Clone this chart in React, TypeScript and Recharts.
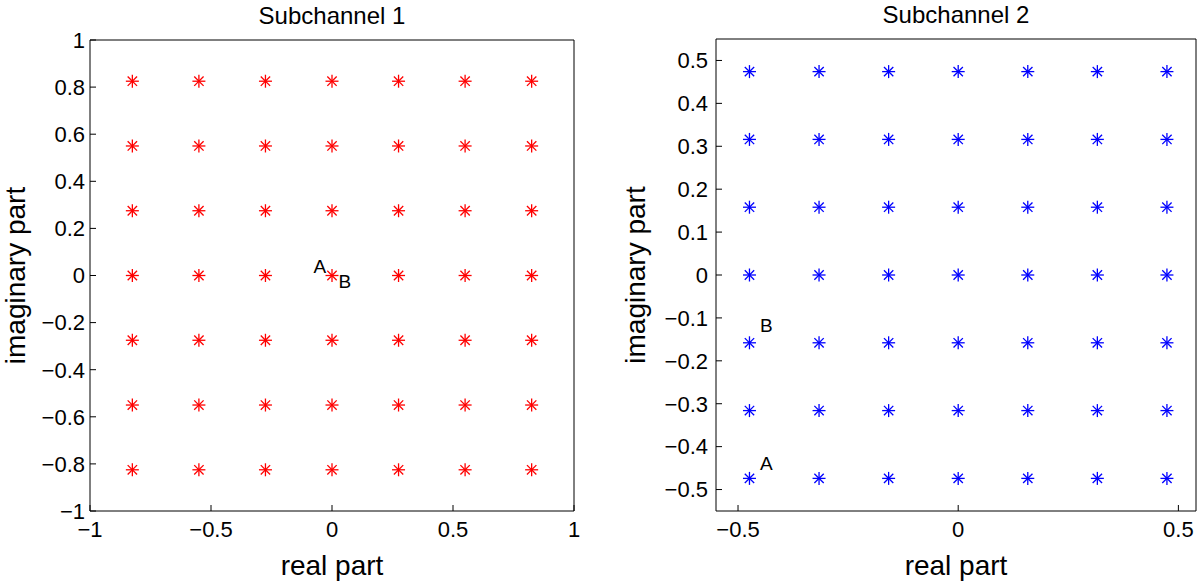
import { ScatterChart, Scatter, XAxis, YAxis } from 'recharts';

// constellation levels
const levels1 = [-0.825, -0.55, -0.275, 0, 0.275, 0.55, 0.825];
const levels2 = [-0.474, -0.316, -0.158, 0, 0.158, 0.316, 0.474];

const ticks1X = [-1, -0.5, 0, 0.5, 1];
const ticks1Y = [-1, -0.8, -0.6, -0.4, -0.2, 0, 0.2, 0.4, 0.6, 0.8, 1];
const ticks2X = [-0.5, 0, 0.5];
const ticks2Y = [-0.5, -0.4, -0.3, -0.2, -0.1, 0, 0.1, 0.2, 0.3, 0.4, 0.5];

const notes1 = [
  { x: -0.076, y: 0.04, text: 'A' },
  { x: 0.027, y: -0.025, text: 'B' },
];
const notes2 = [
  { x: -0.45, y: -0.439, text: 'A' },
  { x: -0.45, y: -0.118, text: 'B' },
];

const grid = (levels: number[]) =>
  levels.flatMap((re) => levels.map((im) => ({ x: re, y: im })));

const FONT = '"Liberation Sans", Arial, Helvetica, sans-serif';

const fmt = (v: number) => (v < 0 ? '\u2212' + String(Math.abs(v)) : String(v));

const star = (color: string) => (props: any) => {
  const { cx, cy } = props;
  const r = 6.5;
  const d = r * 0.72;
  return (
    <g stroke={color} strokeWidth={1.3}>
      <line x1={cx - r} y1={cy} x2={cx + r} y2={cy} />
      <line x1={cx} y1={cy - r} x2={cx} y2={cy + r} />
      <line x1={cx - d} y1={cy - d} x2={cx + d} y2={cy + d} />
      <line x1={cx - d} y1={cy + d} x2={cx + d} y2={cy - d} />
    </g>
  );
};

const note = (props: any) => (
  <text
    x={props.cx}
    y={props.cy}
    dominantBaseline="central"
    fontSize={19}
    fontFamily={FONT}
    fill="#000"
  >
    {props.payload.text}
  </text>
);

const tickStyle = { fill: '#000', fontSize: 22, fontFamily: FONT };

interface PanelProps {
  title: string;
  color: string;
  levels: number[];
  notes: { x: number; y: number; text: string }[];
  xDomain: [number, number];
  yDomain: [number, number];
  xTicks: number[];
  yTicks: number[];
  yWidth: number;
  right: number;
  top: number;
  yLabelOffset: number;
  yTickMargin: number;
}

function Panel(p: PanelProps) {
  return (
    <ScatterChart
      width={600}
      height={581}
      margin={{ top: p.top - 1, right: p.right - 1, bottom: 0, left: 0 }}
      style={{ fontFamily: FONT }}
    >
      <XAxis
        dataKey="x"
        type="number"
        domain={p.xDomain}
        ticks={p.xTicks}
        allowDataOverflow
        height={70}
        stroke="#000"
        tick={tickStyle}
        tickSize={-6}
        tickMargin={16}
        tickFormatter={fmt}
        label={{
          value: 'real part',
          position: 'insideBottom',
          offset: 6,
          fill: '#000',
          fontSize: 28,
          fontFamily: FONT,
        }}
      />
      <XAxis
        xAxisId="top"
        dataKey="x"
        orientation="top"
        type="number"
        domain={p.xDomain}
        ticks={p.xTicks}
        allowDataOverflow
        height={1}
        stroke="#000"
        tick={false}
        tickSize={-6}
        label={{
          value: p.title,
          position: 'top',
          offset: 15,
          fill: '#000',
          fontSize: 24,
          fontFamily: FONT,
        }}
      />
      <YAxis
        dataKey="y"
        type="number"
        domain={p.yDomain}
        ticks={p.yTicks}
        allowDataOverflow
        width={p.yWidth}
        stroke="#000"
        tick={tickStyle}
        tickSize={-6}
        tickMargin={p.yTickMargin}
        tickFormatter={fmt}
        label={{
          value: 'imaginary part',
          angle: -90,
          position: 'insideLeft',
          offset: p.yLabelOffset,
          fill: '#000',
          fontSize: 28,
          fontFamily: FONT,
          style: { textAnchor: 'middle' },
        }}
      />
      <YAxis
        yAxisId="right"
        dataKey="y"
        orientation="right"
        type="number"
        domain={p.yDomain}
        ticks={p.yTicks}
        allowDataOverflow
        width={1}
        stroke="#000"
        tick={false}
        tickSize={-6}
      />
      <Scatter data={grid(p.levels)} shape={star(p.color)} isAnimationActive={false} />
      <Scatter
        data={p.notes}
        xAxisId="top"
        yAxisId="right"
        shape={note}
        isAnimationActive={false}
      />
    </ScatterChart>
  );
}

export default function App() {
  return (
    <div style={{ position: 'absolute', left: 0, top: 0, width: 1200, height: 581, background: '#fff', display: 'flex' }}>
      <Panel
        title="Subchannel 1"
        color="#ff0000"
        levels={levels1}
        notes={notes1}
        xDomain={[-1, 1]}
        yDomain={[-1, 1]}
        xTicks={ticks1X}
        yTicks={ticks1Y}
        yWidth={90}
        right={26}
        top={40}
        yLabelOffset={15}
        yTickMargin={11}
      />
      <Panel
        title="Subchannel 2"
        color="#0000ff"
        levels={levels2}
        notes={notes2}
        xDomain={[-0.55, 0.54]}
        yDomain={[-0.55, 0.55]}
        xTicks={ticks2X}
        yTicks={ticks2Y}
        yWidth={116}
        right={4}
        top={39}
        yLabelOffset={35}
        yTickMargin={14}
      />
    </div>
  );
}
